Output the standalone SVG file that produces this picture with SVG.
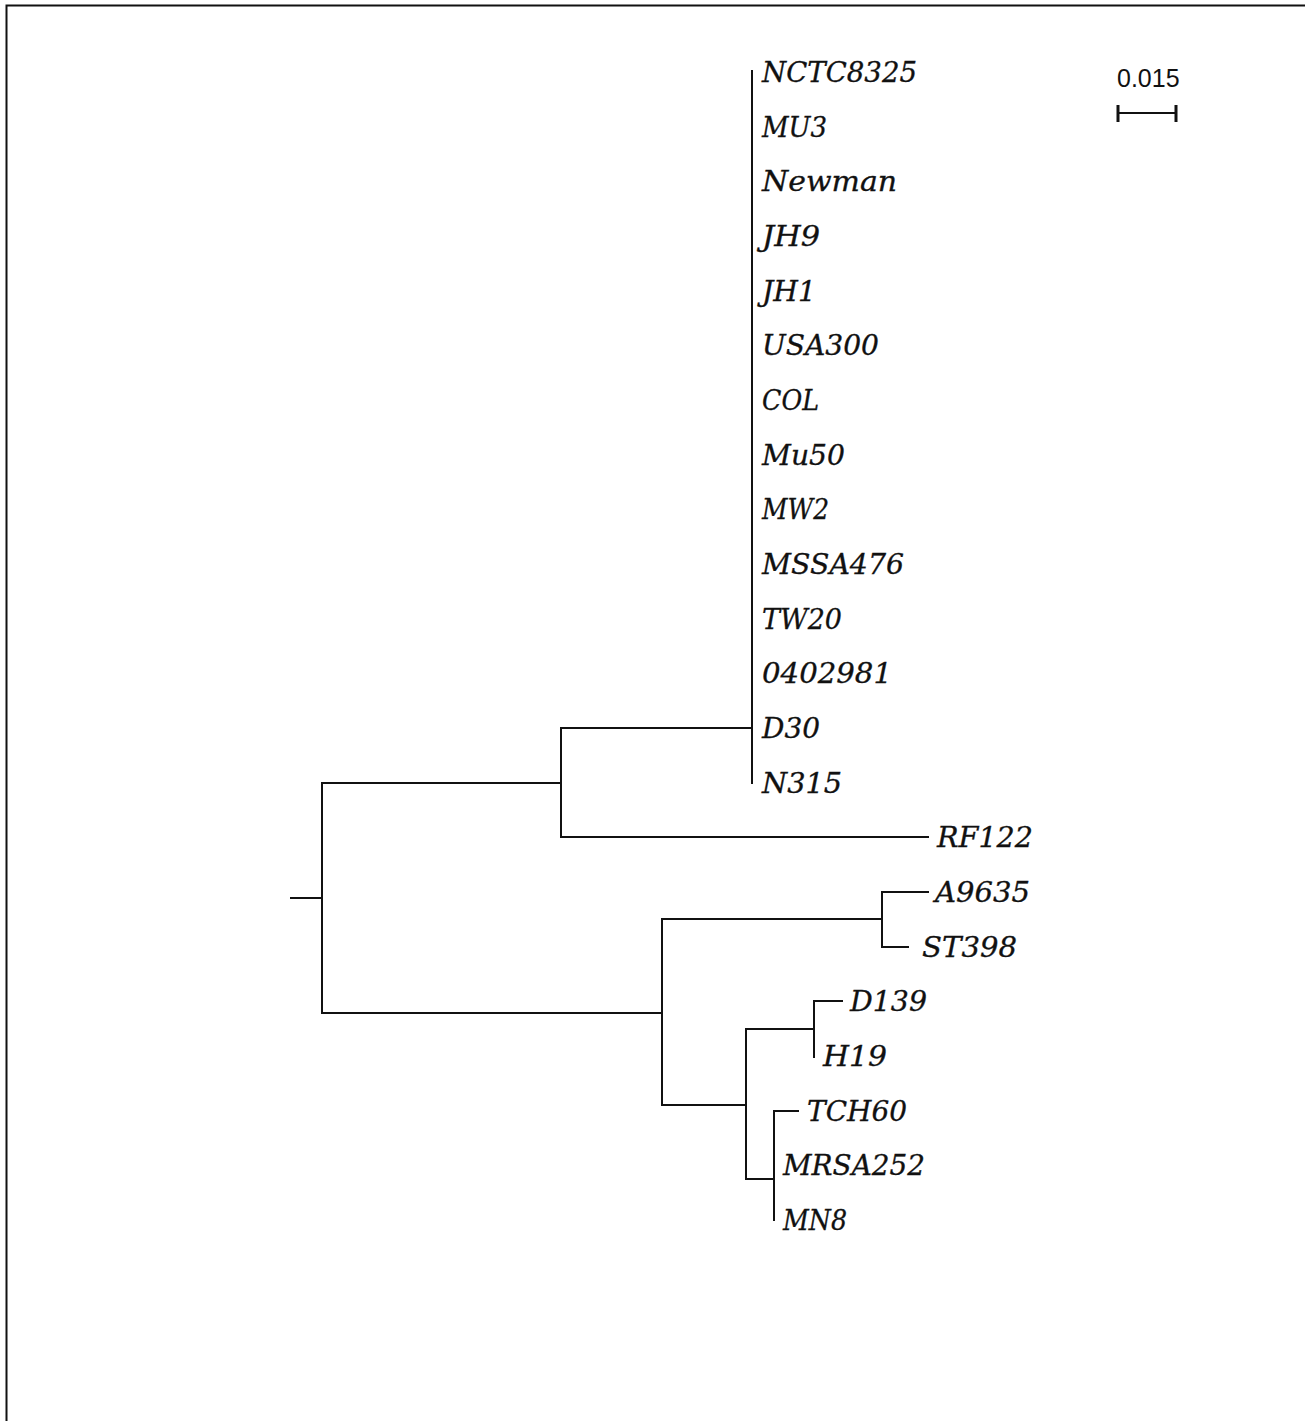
<svg xmlns="http://www.w3.org/2000/svg" width="1305" height="1421" viewBox="0 0 1305 1421">
<style>
.b{stroke:#111;stroke-width:2;fill:none;stroke-linecap:square}
.l{font-family:"DejaVu Serif","Liberation Serif",serif;font-style:italic;font-size:27px;fill:#111;stroke:#111;stroke-width:0.3}
.s{font-family:"Liberation Sans",Arial,sans-serif;font-size:25px;fill:#111}
</style>
<rect width="1305" height="1421" fill="#fff"/>
<path class="b" d="M6.5,1421 V5.5 H1305"/>
<g id="connectors">
<path class="b" d="M291,898 H322 M322,783 V1013 M322,783 H561 M561,728 V837 M561,728 H752 M752,71 V783 M561,837 H928"/>
<path class="b" d="M322,1013 H662 M662,919 V1105 M662,919 H882 M882,892 V947 M882,892 H928 M882,947 H908"/>
<path class="b" d="M662,1105 H746 M746,1029 V1179 M746,1029 H814 M814,1001 V1057 M814,1001 H842 M746,1179 H774 M774,1111 V1220 M774,1111 H798"/>
</g>
<g id="NCTC8325"><text class="l" x="762" y="82" textLength="155" lengthAdjust="spacingAndGlyphs">NCTC8325</text></g>
<g id="MU3"><text class="l" x="762" y="137" textLength="65" lengthAdjust="spacingAndGlyphs">MU3</text></g>
<g id="Newman"><text class="l" x="762" y="191" textLength="135" lengthAdjust="spacingAndGlyphs">Newman</text></g>
<g id="JH9"><text class="l" x="762" y="246" textLength="58" lengthAdjust="spacingAndGlyphs">JH9</text></g>
<g id="JH1"><text class="l" x="762" y="301" textLength="54" lengthAdjust="spacingAndGlyphs">JH1</text></g>
<g id="USA300"><text class="l" x="762" y="355" textLength="117" lengthAdjust="spacingAndGlyphs">USA300</text></g>
<g id="COL"><text class="l" x="762" y="410" textLength="57" lengthAdjust="spacingAndGlyphs">COL</text></g>
<g id="Mu50"><text class="l" x="762" y="465" textLength="83" lengthAdjust="spacingAndGlyphs">Mu50</text></g>
<g id="MW2"><text class="l" x="762" y="519" textLength="67" lengthAdjust="spacingAndGlyphs">MW2</text></g>
<g id="MSSA476"><text class="l" x="762" y="574" textLength="142" lengthAdjust="spacingAndGlyphs">MSSA476</text></g>
<g id="TW20"><text class="l" x="762" y="629" textLength="80" lengthAdjust="spacingAndGlyphs">TW20</text></g>
<g id="n0402981"><text class="l" x="762" y="683" textLength="130" lengthAdjust="spacingAndGlyphs">0402981</text></g>
<g id="D30"><text class="l" x="762" y="738" textLength="58" lengthAdjust="spacingAndGlyphs">D30</text></g>
<g id="N315"><text class="l" x="762" y="793" textLength="80" lengthAdjust="spacingAndGlyphs">N315</text></g>
<g id="RF122"><text class="l" x="937" y="847" textLength="96" lengthAdjust="spacingAndGlyphs">RF122</text></g>
<g id="A9635"><text class="l" x="935" y="902" textLength="95" lengthAdjust="spacingAndGlyphs">A9635</text></g>
<g id="ST398"><text class="l" x="922" y="957" textLength="95" lengthAdjust="spacingAndGlyphs">ST398</text></g>
<g id="D139"><text class="l" x="850" y="1011" textLength="77" lengthAdjust="spacingAndGlyphs">D139</text></g>
<g id="H19"><text class="l" x="823" y="1066" textLength="64" lengthAdjust="spacingAndGlyphs">H19</text></g>
<g id="TCH60"><text class="l" x="807" y="1121" textLength="100" lengthAdjust="spacingAndGlyphs">TCH60</text></g>
<g id="MRSA252"><text class="l" x="783" y="1175" textLength="142" lengthAdjust="spacingAndGlyphs">MRSA252</text></g>
<g id="MN8"><text class="l" x="783" y="1230" textLength="64" lengthAdjust="spacingAndGlyphs">MN8</text></g>
<g id="scalebar">
<text class="s" x="1117" y="87">0.015</text>
<path class="b" d="M1118,113 H1176"/>
<path d="M1118,105 V122 M1176,105 V122" stroke="#111" stroke-width="3"/>
</g>
</svg>
